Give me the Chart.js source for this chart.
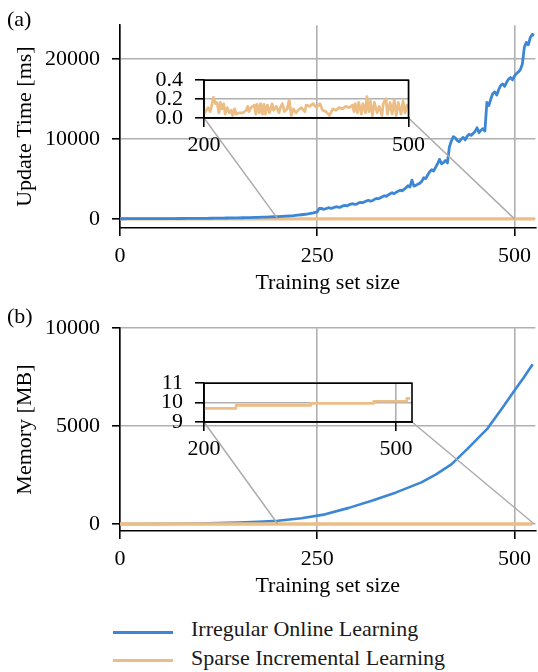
<!DOCTYPE html>
<html>
<head>
<meta charset="utf-8">
<script src="https://cdn.jsdelivr.net/npm/chart.js@4.4.0/dist/chart.umd.min.js"></script>
<style>
  html, body { margin: 0; padding: 0; background: #fff; }
  body { width: 538px; height: 672px; position: relative; overflow: hidden; font-family: 'Liberation Serif', serif; }
  canvas { position: absolute; }
  .key { position: absolute; left: 113px; width: 60px; height: 3px; }
  .keyText { position: absolute; left: 191px; font-size: 22px; line-height: 22px; color: #1a1a1a; white-space: nowrap; }
</style>
</head>
<body>
<canvas id="mainA" width="538" height="300" style="left:0;top:0"></canvas>
<canvas id="insetA" width="290" height="110" style="left:140px;top:55px"></canvas>
<canvas id="mainB" width="538" height="300" style="left:0;top:303px"></canvas>
<canvas id="insetB" width="290" height="110" style="left:140px;top:358px"></canvas>

<div class="key" style="top:630.5px;background:#3b87d6"></div>
<div class="keyText" style="top:617.6px">Irregular Online Learning</div>
<div class="key" style="top:659px;background:#ecbd85"></div>
<div class="keyText" style="top:647.3px">Sparse Incremental Learning</div>

<script>
// update time, irregular online learning (ms)
let sizes = [0,5,10,15,20,25,30,35,40,45,50,55,60,65,70,75,80,85,90,95,
  100,105,110,115,120,125,130,135,140,145,150,155,160,165,170,175,180,185,190,195,
  200,205,210,215,220,225,230,235,240,245,
  250,252.5,255,257.5,260,262.5,265,267.5,270,272.5,275,277.5,280,282.5,285,287.5,290,292.5,295,297.5,
  300,302.5,305,307.5,310,312.5,315,317.5,320,322.5,325,327.5,330,332.5,335,337.5,340,342.5,345,347.5,
  350,352.5,355,357.5,360,362.5,365,367.5,370,372.5,375,377.5,380,382.5,385,387.5,390,392.5,395,397.5,
  400,402.5,405,407.5,410,412.5,415,417.5,420,422.5,425,427.5,430,432.5,435,437.5,440,442.5,445,447.5,
  450,452.5,455,457.5,460,462.5,465,467.5,470,472.5,475,477.5,480,482.5,485,487.5,490,492.5,495,497.5,
  500,502.5,505,507.5,510,512.5,515,517.5,520,522.5,525];
let timeIrregular = [20,20,22,24,25,27,28,30,32,34,36,38,40,43,46,49,52,55,59,63,
  67,72,77,82,88,95,102,110,118,127,136,146,157,168,180,195,210,228,248,268,
  290,320,350,385,420,470,520,580,660,760,
  880,1300,1330,1200,1240,1330,1400,1320,1380,1480,1520,1450,1490,1640,1680,1620,1750,1850,1900,1820,
  1850,2000,2080,2020,2150,2250,2330,2220,2280,2450,2560,2500,2650,2780,2900,2820,3000,3150,3280,3150,
  3330,3450,3600,3500,3700,3900,4150,4000,4850,4100,4200,4350,4450,4700,5150,5050,5500,5900,6150,6000,
  6450,6900,7450,6900,7050,7300,7000,9000,9750,10300,10150,9800,9650,10000,10200,9900,10350,10600,10450,10700,
  10950,11400,10800,11100,11300,11000,14600,14200,15000,15700,15900,15500,16200,16700,16900,16600,17100,17500,17700,17400,
  17900,18200,18400,18700,19400,21500,22100,21800,22700,23100,23000];

// update time, sparse incremental learning (ms)
let sparseSizes = [0,40,80,120,160,201,206,209,211,214,217,219,222,224,226,229,231,234,237,240,
  242,245,247,252,257,262,264,266,269,274,276,278,281,283,286,288,290,293,296,300,
  302,306,310,312,315,318,322,325,328,331,335,338,343,348,350,355,360,365,370,374,
  379,384,389,394,398,403,408,413,418,420,422,425,427,431,433,437,439,442,444,447,
  450,454,457,461,463,467,469,473,476,479,482,485,489,492,495,498,505,512,519,526];
let timeSparse = [0.08,0.09,0.07,0.10,0.08,0.055,0.110,0.068,0.123,0.219,0.151,0.164,0.055,0.164,0.096,0.151,0.041,0.110,0.055,0.082,
  0.027,0.096,0.041,0.055,0.055,0.082,0.123,0.068,0.110,0.137,0.041,0.145,0.055,0.151,0.041,0.145,0.041,0.137,0.055,0.151,
  0.082,0.123,0.055,0.110,0.151,0.068,0.096,0.192,0.027,0.096,0.055,0.082,0.110,0.068,0.137,0.123,0.151,0.110,0.151,0.082,
  0.068,0.027,0.096,0.082,0.110,0.096,0.123,0.110,0.137,0.068,0.151,0.055,0.164,0.041,0.151,0.055,0.225,0.068,0.178,0.027,
  0.164,0.055,0.123,0.027,0.151,0.205,0.041,0.164,0.041,0.192,0.027,0.164,0.041,0.178,0.055,0.137,0.09,0.11,0.08,0.10];

// memory (MB)
let memSizes = [0,25,50,75,100,125,150,175,200,230,260,290,320,350,382,400,420,440,466,485,500,512,523];
let memIrregular = [5,8,14,22,35,52,80,118,170,300,500,830,1210,1620,2130,2530,3050,3830,4890,5950,6820,7500,8160];
let memStepSizes = [0,250,367,465,517,522];
let memSparse = [9.70,9.855,9.96,10.07,10.22,10.22];

// ticks
let xTicks = [0,250,500];
let timeTicks = [0,10000,20000];
let memTicks = [0,5000,10000];
let insetXTicks = [200,500];
let insetTimeTicks = [0,0.2,0.4];
let insetMemTicks = [9,10,11];

const blue = '#3b87d6';
const orange = '#ecbd85';
const font = { family: 'Liberation Serif', size: 22 };
const gridGray = '#b0b0b0';

function pts(xs, ys) {
  return xs.map((x, i) => ({ x: x, y: ys[i] }));
}

const panelLabel = {
  id: 'panelLabel',
  afterDraw(chart, args, opts) {
    const ctx = chart.ctx;
    ctx.save();
    ctx.font = '22px "Liberation Serif"';
    ctx.fillStyle = '#000';
    ctx.textBaseline = 'alphabetic';
    ctx.fillText(opts.text, 7, opts.y);
    ctx.restore();
  }
};

// grey lines from the inset's lower corners down to the zoomed region
const connectors = {
  id: 'connectors',
  afterDatasetsDraw(chart) {
    const inset = chart.$inset;
    if (!inset) return;
    const dx = inset.canvas.offsetLeft - chart.canvas.offsetLeft;
    const dy = inset.canvas.offsetTop - chart.canvas.offsetTop;
    const a = inset.chartArea;
    const ix = inset.scales.x, iy = inset.scales.y;
    const x = chart.scales.x, y = chart.scales.y;
    const ctx = chart.ctx;
    ctx.save();
    ctx.strokeStyle = '#acacac';
    ctx.lineWidth = 1.5;
    ctx.beginPath();
    ctx.moveTo(dx + a.left, dy + a.bottom);
    ctx.lineTo(x.getPixelForValue(ix.min), y.getPixelForValue(iy.min));
    ctx.moveTo(dx + a.right, dy + a.bottom);
    ctx.lineTo(x.getPixelForValue(ix.max), y.getPixelForValue(iy.min));
    ctx.stroke();
    ctx.restore();
  }
};

const boxBorder = {
  id: 'boxBorder',
  afterDraw(chart) {
    const a = chart.chartArea;
    const ctx = chart.ctx;
    ctx.save();
    ctx.strokeStyle = '#000';
    ctx.lineWidth = 1.6;
    ctx.strokeRect(a.left, a.top, a.right - a.left, a.bottom - a.top);
    ctx.restore();
  }
};

function makeMain(id, datasets, yMin, yMax, yTicks, yTitle, label, labelY) {
  return new Chart(document.getElementById(id), {
    type: 'line',
    data: { datasets: datasets },
    options: {
      responsive: false,
      animation: false,
      layout: { padding: { top: 22, right: 0, bottom: 0, left: 0 }, autoPadding: false },
      elements: { point: { radius: 0 }, line: { tension: 0, borderJoinStyle: 'round' } },
      plugins: {
        legend: { display: false },
        tooltip: { enabled: false },
        panelLabel: { text: label, y: labelY }
      },
      scales: {
        x: {
          type: 'linear', min: 0, max: 526.5,
          afterFit: s => { s.height = 72; },
          afterBuildTicks: s => { s.ticks = xTicks.map(v => ({ value: v })); },
          grid: { color: gridGray, lineWidth: 1.6, tickColor: '#000', tickLength: 8, tickWidth: 1.6 },
          border: { color: '#000', width: 1.6 },
          ticks: { color: '#000', font: font, padding: 7, maxRotation: 0, autoSkip: false, callback: v => String(v) },
          title: { display: true, text: 'Training set size', color: '#000', font: font, padding: { top: 0, bottom: 4 } }
        },
        y: {
          type: 'linear', min: yMin, max: yMax,
          afterFit: s => { s.width = 120; },
          afterBuildTicks: s => { s.ticks = yTicks.map(v => ({ value: v })); },
          grid: { color: gridGray, lineWidth: 1.6, tickColor: '#000', tickLength: 8, tickWidth: 1.6 },
          border: { color: '#000', width: 1.6 },
          ticks: { color: '#000', font: font, padding: 12, autoSkip: false, callback: v => String(v) },
          title: { display: true, text: yTitle, color: '#000', font: font, padding: { top: 12, bottom: 0 } }
        }
      }
    },
    plugins: [panelLabel, connectors]
  });
}

function makeInset(id, box, datasets, xMin, xMax, yMin, yMax, yTicks, yFmt) {
  const cv = document.getElementById(id);
  const L = cv.offsetLeft, T = cv.offsetTop;
  return new Chart(cv, {
    type: 'line',
    data: { datasets: datasets },
    options: {
      responsive: false,
      animation: false,
      layout: { padding: { top: box.top - T, right: L + cv.width - box.right, bottom: 0, left: 0 }, autoPadding: false },
      elements: { point: { radius: 0 }, line: { tension: 0, borderJoinStyle: 'round' } },
      plugins: { legend: { display: false }, tooltip: { enabled: false } },
      scales: {
        x: {
          type: 'linear', min: xMin, max: xMax,
          afterFit: s => { s.height = T + cv.height - box.bottom; },
          afterBuildTicks: s => { s.ticks = insetXTicks.map(v => ({ value: v })); },
          grid: { color: gridGray, lineWidth: 1.6, tickColor: '#000', tickLength: 9, tickWidth: 1.6 },
          border: { color: '#000', width: 1.6 },
          ticks: { color: '#000', font: font, padding: 5, maxRotation: 0, autoSkip: false, callback: v => String(v) }
        },
        y: {
          type: 'linear', min: yMin, max: yMax,
          afterFit: s => { s.width = box.left - L; },
          afterBuildTicks: s => { s.ticks = yTicks.map(v => ({ value: v })); },
          grid: { color: gridGray, lineWidth: 1.6, tickColor: '#000', tickLength: 9, tickWidth: 1.6 },
          border: { color: '#000', width: 1.6 },
          ticks: { color: '#000', font: font, padding: 12, autoSkip: false, callback: yFmt }
        }
      }
    },
    plugins: [boxBorder]
  });
}

// (a) update time
let mainA = makeMain('mainA', [
  { data: pts(sizes, timeIrregular), borderColor: blue, borderWidth: 2.8, order: 0 },
  { data: pts(sparseSizes, timeSparse), borderColor: orange, borderWidth: 3.4, order: 1 }
], -1140, 24250, timeTicks, 'Update Time [ms]', '(a)', 26);

let insetA = makeInset('insetA', { left: 204, top: 69, right: 412, bottom: 118 }, [
  { data: pts(sparseSizes, timeSparse), borderColor: orange, borderWidth: 2.8 }
], 200, 500, 0, 0.4, insetTimeTicks, v => v.toFixed(1));

mainA.$inset = insetA;
mainA.draw();

// (b) memory
let mainB = makeMain('mainB', [
  { data: pts(memStepSizes, memSparse), borderColor: orange, borderWidth: 3.4, stepped: true, order: 0 },
  { data: pts(memSizes, memIrregular), borderColor: blue, borderWidth: 2.6, order: 1 }
], -350, 10000, memTicks, 'Memory [MB]', '(b)', 20);

let insetB = makeInset('insetB', { left: 204, top: 372, right: 412, bottom: 422 }, [
  { data: pts(memStepSizes, memSparse), borderColor: orange, borderWidth: 2.6, stepped: true }
], 200, 525, 9, 11, insetMemTicks, v => String(v));

mainB.$inset = insetB;
mainB.draw();
</script>
</body>
</html>
